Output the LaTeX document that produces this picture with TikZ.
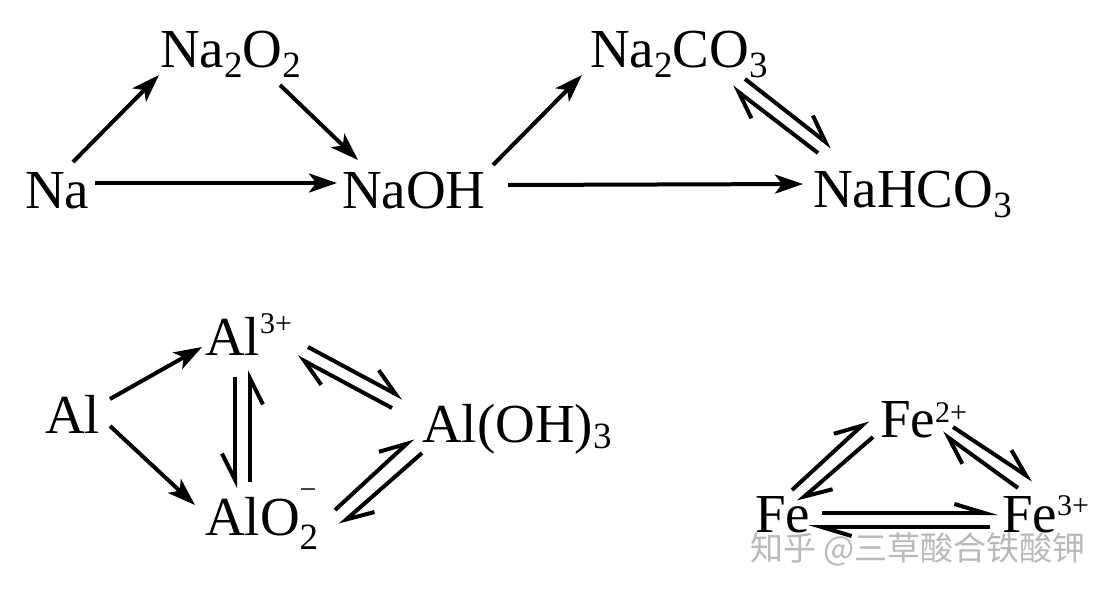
\documentclass[tikz,border=0pt]{standalone}
\usepackage{fontspec}
\setmainfont{Liberation Serif}
\newfontfamily\cjkfont{Noto Sans CJK SC}
\usetikzlibrary{arrows.meta}
\newcommand\chsub[2][10]{\raisebox{-#1pt}{\fontsize{37}{37}\selectfont #2}}
\newcommand\chsup[2][18]{\raisebox{#1pt}{\fontsize{30}{30}\selectfont #2}}
\definecolor{wmgray}{RGB}{185,185,185}
\begin{document}
\begin{tikzpicture}[x=1pt,y=-1pt,
  chem/.style={anchor=base west,inner sep=0pt,outer sep=0pt,font=\fontsize{55}{60}\selectfont},
  arr/.style={line width=4pt,-{Stealth[length=28pt,width=19pt,inset=7pt]}},
  hl/.style={line width=4pt,-{Straight Barb[harpoon,length=26pt,width=26pt]}},
  hr/.style={line width=4pt,-{Straight Barb[harpoon,swap,length=26pt,width=26pt]}},
  hlf/.style={line width=4pt,-{Straight Barb[harpoon,length=30pt,width=18pt]}}]
\fill[white] (0,0) rectangle (1110,595);
\useasboundingbox (0,0) rectangle (1110,595);
% Na row
\node[chem] (na) at (25,208) {Na};
\node[chem] (na2o2) at (160,67) {Na\chsub{2}O\chsub{2}};
\node[chem] (naoh) at (342,208) {NaOH};
\node[chem] (na2co3) at (590,67) {Na\chsub{2}CO\chsub{3}};
\node[chem] (nahco3) at (813,207) {NaHCO\chsub{3}};
% Al group
\node[chem] (al) at (45,433) {Al};
\node[chem] (al3) at (205,355) {Al\chsup[22]{3+}};
\node[chem] (aloh) at (422,442) {Al(OH)\chsub[6]{3}};
\node[chem] (alo2) at (205,535) {AlO\rlap{\chsup[36]{−}}\chsub[14]{2}};
% Fe group
\node[chem] (fe2) at (880,437) {Fe\chsup[15]{2+}};
\node[chem] (fe) at (755,532) {Fe};
\node[chem] (fe3) at (1002,532) {Fe\chsup[17]{3+}};
% Na arrows
\draw[arr] ([shift={(48,-46)}]na.base west) -- ([shift={(-1,8)}]na2o2.base west);
\draw[arr] ([shift={(120,18)}]na2o2.base west) -- ([shift={(16,-48)}]naoh.base west);
\draw[arr] ([shift={(70,-25)}]na.base west) -- ([shift={(-5,-25)}]naoh.base west);
\draw[arr] ([shift={(151,-43)}]naoh.base west) -- ([shift={(-8,8)}]na2co3.base west);
\draw[arr] ([shift={(166,-23)}]naoh.base west) -- ([shift={(-10,-23)}]nahco3.base west);
\draw[hl] ([shift={(155,12)}]na2co3.base west) -- ([shift={(19,-60)}]nahco3.base west);
\draw[hl] ([shift={(5,-54)}]nahco3.base west) -- ([shift={(142,20)}]na2co3.base west);
% Al arrows
\draw[arr] ([shift={(65,-34)}]al.base west) -- ([shift={(-3,-8)}]al3.base west);
\draw[arr] ([shift={(65,-7)}]al.base west) -- ([shift={(-10,-30)}]alo2.base west);
\draw[hr] ([shift={(30,22)}]al3.base west) -- ([shift={(30,-47)}]alo2.base west);
\draw[hr] ([shift={(45,-53)}]alo2.base west) -- ([shift={(45,15)}]al3.base west);
\draw[hl] ([shift={(103,-8)}]al3.base west) -- ([shift={(-19,-44)}]aloh.base west);
\draw[hl] ([shift={(-30,-34)}]aloh.base west) -- ([shift={(92,2)}]al3.base west);
\draw[hl] ([shift={(130,-25)}]alo2.base west) -- ([shift={(-9,-4)}]aloh.base west);
\draw[hl] ([shift={(0,11)}]aloh.base west) -- ([shift={(135,-10)}]alo2.base west);
% Fe arrows
\draw[hl] ([shift={(37,-42)}]fe.base west) -- ([shift={(-12,-17)}]fe2.base west);
\draw[hl] ([shift={(-7,0)}]fe2.base west) -- ([shift={(43,-30)}]fe.base west);
\draw[hl] ([shift={(73,-10)}]fe2.base west) -- ([shift={(31,-52)}]fe3.base west);
\draw[hl] ([shift={(16,-44)}]fe3.base west) -- ([shift={(62,-4)}]fe2.base west);
\draw[hlf] ([shift={(67,-19)}]fe.base west) -- ([shift={(-4,-19)}]fe3.base west);
\draw[hlf] ([shift={(-12,-5)}]fe3.base west) -- ([shift={(53,-5)}]fe.base west);
% watermark
\node[anchor=west,inner sep=0pt,text=wmgray,font=\cjkfont\fontsize{33}{33}\selectfont] (wm) at (750,549) {知乎 @三草酸合铁酸钾};
\end{tikzpicture}
\end{document}
